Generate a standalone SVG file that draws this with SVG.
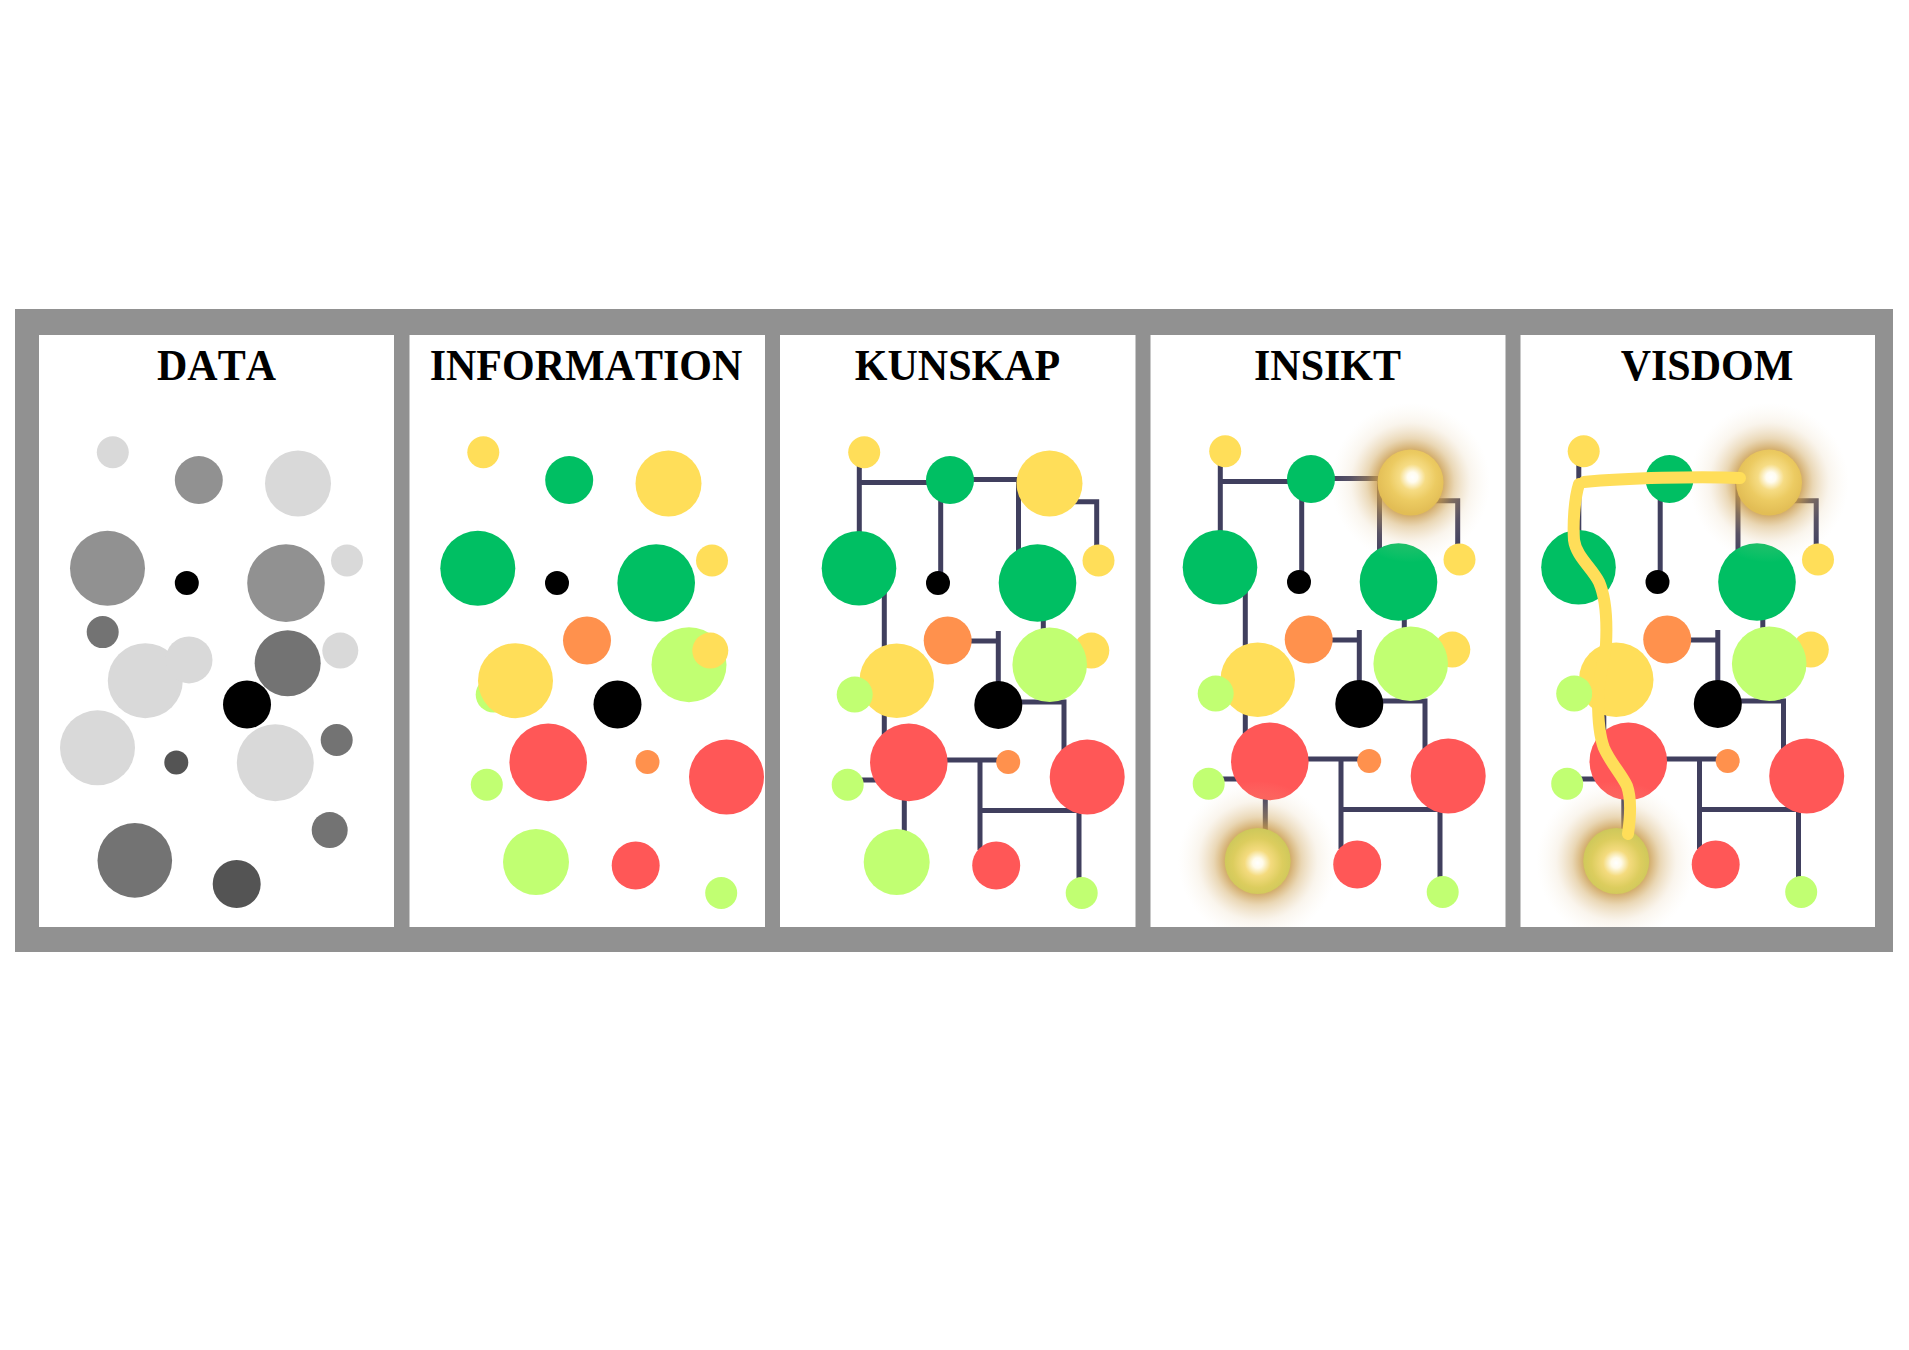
<svg xmlns="http://www.w3.org/2000/svg" xmlns:xlink="http://www.w3.org/1999/xlink" width="1909" height="1350" viewBox="0 0 1909 1350">
<style>
.title{font-family:"Liberation Serif","Times New Roman",serif;font-weight:bold;font-size:42px;fill:#000;text-anchor:middle;font-kerning:none}
.L{fill:#d9d9d9}.M{fill:#919191}.D{fill:#737373}.DD{fill:#545454}.k{fill:#000}
.g{fill:#00bf63}.y{fill:#ffde59}.lg{fill:#c1ff72}.r{fill:#ff5757}.o{fill:#ff914d}
.ln{fill:none;stroke:#403f5e;stroke-width:5;stroke-linecap:butt}
.path{fill:none;stroke:#ffde59;stroke-width:12;stroke-linecap:round;stroke-linejoin:round}
</style>
<defs>
<radialGradient id="halo" cx="0.5" cy="0.5" r="0.5">
<stop offset="0.4" stop-color="#c99a4a" stop-opacity="0.85"/>
<stop offset="0.55" stop-color="#d0a65a" stop-opacity="0.45"/>
<stop offset="0.75" stop-color="#dcbb85" stop-opacity="0.15"/>
<stop offset="1" stop-color="#f0e0c0" stop-opacity="0"/>
</radialGradient>
<radialGradient id="glowTop" cx="0.53" cy="0.42" r="0.55" fx="0.53" fy="0.42">
<stop offset="0" stop-color="#ffffff"/>
<stop offset="0.14" stop-color="#fffcef"/>
<stop offset="0.36" stop-color="#f6dc84"/>
<stop offset="0.65" stop-color="#eccb62"/>
<stop offset="1" stop-color="#e2bd55"/>
</radialGradient>
<radialGradient id="glowBot" cx="0.5" cy="0.53" r="0.55" fx="0.5" fy="0.53">
<stop offset="0" stop-color="#ffffff"/>
<stop offset="0.14" stop-color="#fffbea"/>
<stop offset="0.36" stop-color="#f4db7e"/>
<stop offset="0.68" stop-color="#dccd5e"/>
<stop offset="1" stop-color="#cbc75a"/>
</radialGradient>
<clipPath id="clipIn">
<rect x="780" y="336" width="355" height="592"/>
</clipPath>
</defs>
<rect width="1909" height="1350" fill="#ffffff"/>
<g id="frame">
<rect x="15" y="309" width="1878" height="643" fill="#919191"/>
<rect x="39" y="335" width="355" height="592" fill="#ffffff"/>
<rect x="409.5" y="335" width="355.5" height="592" fill="#ffffff"/>
<rect x="780" y="335" width="355.5" height="592" fill="#ffffff"/>
<rect x="1150.5" y="335" width="355" height="592" fill="#ffffff"/>
<rect x="1520.5" y="335" width="354.5" height="592" fill="#ffffff"/>
</g>
<g id="connectors">
<g id="lines-kunskap">
<path class="ln" d="M859.3,455V560M859.3,482.5H940M940.7,485V578M960,479.5H1030M1018.5,479.5V560M1060,501.7H1096.7V555M884.3,590V740M1043.3,610V640M960,641H998.3M998.3,631V690M1010,702H1064V760M930,760H1000M980,760V850M980,810.6H1079M1079,790V885M850,780H880M904.3,800V835"/>
</g>
<g id="lines-insikt" transform="translate(361,-1)">
<path class="ln" d="M859.3,455V560M859.3,482.5H940M940.7,485V578M960,479.5H1030M1018.5,479.5V560M1060,501.7H1096.7V555M884.3,590V740M1043.3,610V640M960,641H998.3M998.3,631V690M1010,702H1064V760M930,760H1000M980,760V850M980,810.6H1079M1079,790V885M850,780H880M904.3,800V835"/>
</g>
<g id="lines-visdom" transform="translate(719.5,-1)">
<path class="ln" d="M859.3,455V560M859.3,482.5H940M940.7,485V578M960,479.5H1030M1018.5,479.5V560M1060,501.7H1096.7V555M884.3,590V740M1043.3,610V640M960,641H998.3M998.3,631V690M1010,702H1064V760M930,760H1000M980,760V850M980,810.6H1079M1079,790V885M850,780H880M904.3,800V835"/>
</g>
</g>
<g id="panel-data">
<text class="title" transform="translate(216.5,380) scale(1,1.07)">DATA</text>
<circle class="L" cx="112.8" cy="452.2" r="16"/>
<circle class="M" cx="198.8" cy="480.1" r="24"/>
<circle class="L" cx="298" cy="483.5" r="33"/>
<circle class="M" cx="107.5" cy="568.3" r="37.5"/>
<circle class="k" cx="186.8" cy="583.1" r="12"/>
<circle class="M" cx="286" cy="583.1" r="38.8"/>
<circle class="L" cx="347" cy="560.5" r="16"/>
<circle class="D" cx="102.7" cy="632.1" r="16"/>
<circle class="L" cx="145.3" cy="680.7" r="37.5"/>
<circle class="L" cx="189" cy="659.9" r="23.5"/>
<circle class="D" cx="287.7" cy="663.2" r="33"/>
<circle class="L" cx="340.3" cy="650.6" r="18"/>
<circle class="k" cx="247" cy="704.5" r="24"/>
<circle class="L" cx="97.5" cy="747.8" r="37.5"/>
<circle class="DD" cx="176.3" cy="762.6" r="12"/>
<circle class="L" cx="275.3" cy="762.8" r="38.5"/>
<circle class="D" cx="336.7" cy="740" r="16"/>
<circle class="D" cx="329.7" cy="830.1" r="18"/>
<circle class="D" cx="134.8" cy="860.4" r="37.3"/>
<circle class="DD" cx="236.7" cy="884" r="24"/>
</g>
<g id="panel-information">
<text class="title" transform="translate(586,380) scale(1,1.07)">INFORMATION</text>
<circle class="y" cx="483.3" cy="452.2" r="16"/>
<circle class="g" cx="569.2" cy="480.1" r="24"/>
<circle class="y" cx="668.5" cy="483.5" r="33"/>
<circle class="g" cx="477.8" cy="568.3" r="37.5"/>
<circle class="k" cx="557" cy="583" r="12"/>
<circle class="g" cx="656.2" cy="583" r="38.8"/>
<circle class="y" cx="712" cy="560.5" r="16"/>
<circle class="o" cx="587" cy="640.5" r="24"/>
<circle class="lg" cx="493.7" cy="694.6" r="18"/>
<circle class="y" cx="515.5" cy="680.7" r="37.5"/>
<circle class="lg" cx="689" cy="664.7" r="37.5"/>
<circle class="y" cx="710.3" cy="650.6" r="18"/>
<circle class="k" cx="617.5" cy="704.5" r="24"/>
<circle class="r" cx="548.2" cy="762.4" r="38.8"/>
<circle class="lg" cx="486.8" cy="784.7" r="16"/>
<circle class="o" cx="647.5" cy="762" r="12"/>
<circle class="r" cx="726.5" cy="777.1" r="37.5"/>
<circle class="lg" cx="536" cy="861.9" r="33"/>
<circle class="r" cx="635.7" cy="865.5" r="24"/>
<circle class="lg" cx="721.2" cy="893" r="16"/>
</g>
<g id="panel-kunskap">
<text class="title" transform="translate(957.5,380) scale(1,1.07)">KUNSKAP</text>
<circle class="y" cx="864.2" cy="452.2" r="16"/>
<circle class="g" cx="950" cy="480.1" r="24"/>
<circle class="y" cx="1049.5" cy="483.5" r="33"/>
<circle class="g" cx="859" cy="568.3" r="37.3"/>
<circle class="k" cx="938" cy="583" r="12"/>
<circle class="g" cx="1037.5" cy="583" r="38.8"/>
<circle class="y" cx="1098.5" cy="560.5" r="16"/>
<circle class="o" cx="947.7" cy="640.5" r="24"/>
<circle class="y" cx="1091.3" cy="650.6" r="18"/>
<circle class="lg" cx="1049.7" cy="664.7" r="37.3"/>
<circle class="y" cx="896.7" cy="680.7" r="37.3"/>
<circle class="lg" cx="854.7" cy="694.6" r="18"/>
<circle class="k" cx="998.3" cy="704.9" r="24"/>
<circle class="r" cx="908.8" cy="762.4" r="38.8"/>
<circle class="lg" cx="847.7" cy="784.7" r="16"/>
<circle class="o" cx="1008.2" cy="762" r="12"/>
<circle class="r" cx="1087.2" cy="777.1" r="37.5"/>
<circle class="lg" cx="896.7" cy="861.9" r="33"/>
<circle class="r" cx="996.2" cy="865.5" r="24"/>
<circle class="lg" cx="1081.7" cy="893" r="16"/>
</g>
<g id="panel-insikt">
<text class="title" transform="translate(1327.5,380) scale(1,1.07)">INSIKT</text>
<g transform="translate(361,-1)">
<circle class="y" cx="864.2" cy="452.2" r="16"/>
<circle class="g" cx="950" cy="480.1" r="24"/>
<circle class="g" cx="859" cy="568.3" r="37.3"/>
<circle class="k" cx="938" cy="583" r="12"/>
<circle class="g" cx="1037.5" cy="583" r="38.8"/>
<circle class="y" cx="1098.5" cy="560.5" r="16"/>
<circle class="o" cx="947.7" cy="640.5" r="24"/>
<circle class="y" cx="1091.3" cy="650.6" r="18"/>
<circle class="lg" cx="1049.7" cy="664.7" r="37.3"/>
<circle class="y" cx="896.7" cy="680.7" r="37.3"/>
<circle class="lg" cx="854.7" cy="694.6" r="18"/>
<circle class="k" cx="998.3" cy="704.9" r="24"/>
<circle class="r" cx="908.8" cy="762.4" r="38.8"/>
<circle class="lg" cx="847.7" cy="784.7" r="16"/>
<circle class="o" cx="1008.2" cy="762" r="12"/>
<circle class="r" cx="1087.2" cy="777.1" r="37.5"/>
<circle class="r" cx="996.2" cy="865.5" r="24"/>
<circle class="lg" cx="1081.7" cy="893" r="16"/>
<g clip-path="url(#clipIn)">
<circle cx="1049.5" cy="483.5" r="80" fill="url(#halo)"/>
<circle cx="896.7" cy="862" r="80" fill="url(#halo)"/>
</g>
<circle cx="1049.5" cy="483.5" r="33" fill="url(#glowTop)"/>
<circle cx="896.7" cy="862" r="33" fill="url(#glowBot)"/>
</g>
</g>
<g id="panel-visdom">
<text class="title" transform="translate(1707,380) scale(1,1.07)">VISDOM</text>
<g transform="translate(719.5,-1)">
<circle class="y" cx="864.2" cy="452.2" r="16"/>
<circle class="g" cx="950" cy="480.1" r="24"/>
<circle class="g" cx="859" cy="568.3" r="37.3"/>
<circle class="k" cx="938" cy="583" r="12"/>
<circle class="g" cx="1037.5" cy="583" r="38.8"/>
<circle class="y" cx="1098.5" cy="560.5" r="16"/>
<circle class="o" cx="947.7" cy="640.5" r="24"/>
<circle class="y" cx="1091.3" cy="650.6" r="18"/>
<circle class="lg" cx="1049.7" cy="664.7" r="37.3"/>
<circle class="y" cx="896.7" cy="680.7" r="37.3"/>
<circle class="lg" cx="854.7" cy="694.6" r="18"/>
<circle class="k" cx="998.3" cy="704.9" r="24"/>
<circle class="r" cx="908.8" cy="762.4" r="38.8"/>
<circle class="lg" cx="847.7" cy="784.7" r="16"/>
<circle class="o" cx="1008.2" cy="762" r="12"/>
<circle class="r" cx="1087.2" cy="777.1" r="37.5"/>
<circle class="r" cx="996.2" cy="865.5" r="24"/>
<circle class="lg" cx="1081.7" cy="893" r="16"/>
<g clip-path="url(#clipIn)">
<circle cx="1049.5" cy="483.5" r="80" fill="url(#halo)"/>
<circle cx="896.7" cy="862" r="80" fill="url(#halo)"/>
</g>
<circle cx="1049.5" cy="483.5" r="33" fill="url(#glowTop)"/>
<circle cx="896.7" cy="862" r="33" fill="url(#glowBot)"/>
</g>
</g>
<g id="wisdom-path">
<path class="path" d="M1740,478 C1700,476 1625,478 1584,482"/>
<path class="path" d="M1579,484 C1574,500 1573,525 1574,540 C1576,556 1592,568 1599,582 C1606,598 1607,625 1606,645 C1604,660 1598,680 1598,700 C1598,720 1599,735 1604,748 C1610,762 1622,775 1627,786 C1632,800 1630,820 1628,834"/>
</g>
</svg>
